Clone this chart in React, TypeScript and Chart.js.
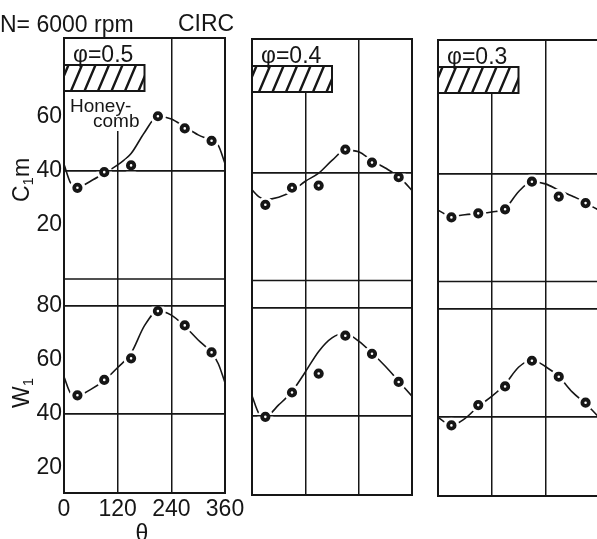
import React, { useEffect, useRef } from 'react';
import { Chart, registerables } from 'chart.js';

Chart.register(...registerables);

// crank angle θ (deg) of the measured points and of the fitted-curve samples
const markerAngles = [30, 90, 150, 210, 270, 330];
const curveAngles = [0, 15, 30, 60, 90, 120, 150, 180, 210, 240, 270, 300, 330, 345, 360];

const phiLabels = ['φ=0.5', 'φ=0.4', 'φ=0.3'];

// C1m, measured points (φ = 0.5, 0.4, 0.3)
const c1mPoints05 = [33.8, 39.6, 42.1, 60.3, 55.8, 51.2];
const c1mPoints04 = [28.0, 34.3, 35.1, 48.4, 43.6, 38.2];
const c1mPoints03 = [23.7, 25.2, 26.7, 36.9, 31.4, 29.0];

// W1, measured points (φ = 0.5, 0.4, 0.3)
const w1Points05 = [46.9, 52.6, 60.6, 78.1, 72.8, 62.8];
const w1Points04 = [39.6, 48.6, 55.6, 69.6, 62.9, 52.5];
const w1Points03 = [36.8, 44.3, 51.2, 60.7, 54.8, 45.2];

// fitted curves, sampled at curveAngles
const c1mCurve05 = [42.5, 35.5, 34.0, 36.3, 39.2, 42.3, 46.5, 54.3, 60.3, 59.3, 56.3, 53.4, 51.2, 49.5, 42.8];
const c1mCurve04 = [33.5, 31.0, 30.0, 30.8, 33.0, 36.7, 39.7, 44.4, 48.2, 47.6, 44.3, 41.6, 38.4, 36.0, 33.3];
const c1mCurve03 = [26.4, 25.0, 24.0, 24.7, 25.1, 25.7, 27.0, 33.2, 36.9, 36.1, 33.8, 31.6, 29.2, 27.7, 26.4];
const w1Curve05 = [53.8, 47.7, 46.9, 49.1, 52.4, 57.2, 62.5, 72.7, 78.2, 76.6, 72.5, 67.4, 62.7, 58.6, 51.6];
const w1Curve04 = [47.4, 41.0, 39.7, 44.0, 49.0, 56.2, 63.8, 68.8, 70.4, 67.6, 63.2, 58.3, 52.8, 50.0, 47.2];
const w1Curve03 = [39.8, 38.0, 36.9, 39.3, 43.8, 47.5, 52.0, 58.3, 61.0, 58.6, 54.9, 49.2, 44.8, 42.4, 39.8];

// axes
const thetaTicks = [0, 120, 240, 360];
const thetaGrid = [120, 240];
const c1mTicks = [20, 40, 60];
const c1mGrid = [40];
const w1Ticks = [20, 40, 60, 80];
const w1Grid = [40, 80];
const c1mRange = [0, 89.3];
const w1Range = [10.7, 90];
const honeycombSpan = [0, 180];

const c1mPoints = [c1mPoints05, c1mPoints04, c1mPoints03];
const w1Points = [w1Points05, w1Points04, w1Points03];
const c1mCurves = [c1mCurve05, c1mCurve04, c1mCurve03];
const w1Curves = [w1Curve05, w1Curve04, w1Curve03];

const INK = '#161616';
const FONT = "'Liberation Sans', Arial, sans-serif";
const H = 539;

// canvas placement of the three columns
const columns = [
  { x: 0, w: 260, padLeft: 0, padRight: 35, axisW: 64, top: 38, bottom: 493 },
  { x: 240, w: 200, padLeft: 12, padRight: 28, axisW: 0, top: 39, bottom: 495 },
  { x: 430, w: 200, padLeft: 8, padRight: 31, axisW: 0, top: 40, bottom: 496 },
];

const pts = (xs: number[], ys: number[]) => xs.map((x, i) => ({ x, y: ys[i] }));

function drawVertical(ctx: CanvasRenderingContext2D, parts: { t: string; size: number; dy: number }[], cx: number, cy: number) {
  ctx.save();
  ctx.translate(cx, cy);
  ctx.rotate(-Math.PI / 2);
  const widths = parts.map((p) => {
    ctx.font = `${p.size}px ${FONT}`;
    return ctx.measureText(p.t).width;
  });
  let x = -widths.reduce((a, b) => a + b, 0) / 2;
  ctx.textBaseline = 'alphabetic';
  ctx.textAlign = 'left';
  parts.forEach((p, i) => {
    ctx.font = `${p.size}px ${FONT}`;
    ctx.fillText(p.t, x, 8 + p.dy);
    x += widths[i];
  });
  ctx.restore();
}

function decorPlugin(col: number) {
  return {
    id: 'panelDecor',
    beforeDatasetsDraw(chart: any) {
      const { ctx, chartArea: a, scales } = chart;
      const x0 = scales.x.getPixelForValue(honeycombSpan[0]);
      const x1 = scales.x.getPixelForValue(honeycombSpan[1]);
      ctx.save();
      // clear band behind the legend block
      ctx.fillStyle = '#fff';
      ctx.fillRect(a.left + 1, a.top + 1, x1 - a.left, (col === 0 ? 92 : 53));
      // hatched honeycomb bar
      const hy0 = a.top + 27;
      const hy1 = a.top + 53;
      ctx.save();
      ctx.beginPath();
      ctx.rect(x0, hy0, x1 - x0, hy1 - hy0);
      ctx.clip();
      ctx.beginPath();
      ctx.strokeStyle = INK;
      ctx.lineWidth = 2.4;
      for (let sx = x0 - 20; sx < x1 + 20; sx += 13.5) {
        ctx.moveTo(sx, hy1);
        ctx.lineTo(sx + 11, hy0);
      }
      ctx.stroke();
      ctx.restore();
      ctx.strokeStyle = INK;
      ctx.lineWidth = 2;
      ctx.strokeRect(x0, hy0, x1 - x0, hy1 - hy0);
      // φ label
      ctx.fillStyle = INK;
      ctx.textBaseline = 'alphabetic';
      ctx.textAlign = 'left';
      ctx.font = `23px ${FONT}`;
      ctx.fillText(phiLabels[col], a.left + 9, a.top + 24);
      if (col === 0) {
        ctx.font = `19px ${FONT}`;
        ctx.fillText('Honey-', a.left + 6, a.top + 74);
        ctx.fillText('comb', a.left + 29, a.top + 89);
      }
      ctx.restore();
    },
    afterDatasetDraw(chart: any, args: any) {
      // horizontal grid lines stay visible through the white rings round the markers
      if (args.index === 2) {
        chart.scales.yC.drawGrid(chart.chartArea);
        chart.scales.yW.drawGrid(chart.chartArea);
      }
    },
    afterDraw(chart: any) {
      const { ctx, chartArea: a, scales } = chart;
      ctx.save();
      ctx.strokeStyle = INK;
      ctx.lineWidth = 2;
      ctx.strokeRect(a.left, a.top, a.right - a.left, a.bottom - a.top);
      ctx.lineWidth = 1.6;
      ctx.beginPath();
      const yd = scales.yW.top;
      ctx.moveTo(a.left, yd);
      ctx.lineTo(a.right, yd);
      ctx.stroke();
      if (col === 0) {
        ctx.fillStyle = INK;
        ctx.textBaseline = 'alphabetic';
        ctx.textAlign = 'left';
        ctx.font = `23px ${FONT}`;
        ctx.fillText('N= 6000 rpm', 0, 32);
        ctx.fillText('CIRC', 178, 31);
        ctx.textAlign = 'center';
        ctx.fillText('θ', 142, 541);
        drawVertical(ctx, [
          { t: 'C', size: 23, dy: 0 },
          { t: '1', size: 15, dy: 4 },
          { t: 'm', size: 23, dy: 0 },
        ], 21, 180);
        drawVertical(ctx, [
          { t: 'W', size: 23, dy: 0 },
          { t: '1', size: 15, dy: 4 },
        ], 21, 393);
      }
      ctx.restore();
    },
  };
}

function buildConfig(col: number): any {
  const c = columns[col];
  const first = col === 0;
  const tickFont = { family: FONT, size: 23 };
  const gridAt = (vals: number[]) => (ctx: any) => (ctx.tick && vals.includes(ctx.tick.value) ? INK : 'rgba(0,0,0,0)');
  const fixTicks = (vals: number[]) => (s: any) => {
    s.ticks = vals.map((v) => ({ value: v }));
  };
  const curve = (data: any, axis: string) => ({
    data,
    yAxisID: axis,
    borderColor: INK,
    borderWidth: 1.6,
    pointRadius: 0,
    cubicInterpolationMode: 'monotone',
    fill: false,
    order: 3,
  });
  const halo = (data: any, axis: string) => ({
    data,
    yAxisID: axis,
    showLine: false,
    pointRadius: 8,
    pointBorderWidth: 0,
    pointBackgroundColor: '#fff',
    pointBorderColor: '#fff',
    order: 2,
  });
  const marker = (data: any, axis: string) => ({
    data,
    yAxisID: axis,
    showLine: false,
    pointRadius: 3.2,
    pointBorderWidth: 3.8,
    pointBackgroundColor: '#fff',
    pointBorderColor: INK,
    order: 1,
  });
  const cCurve = pts(curveAngles, c1mCurves[col]);
  const wCurve = pts(curveAngles, w1Curves[col]);
  const cPts = pts(markerAngles, c1mPoints[col]);
  const wPts = pts(markerAngles, w1Points[col]);
  return {
    type: 'line',
    data: {
      datasets: [
        curve(cCurve, 'yC'),
        curve(wCurve, 'yW'),
        halo(cPts, 'yC'),
        halo(wPts, 'yW'),
        marker(cPts, 'yC'),
        marker(wPts, 'yW'),
      ],
    },
    options: {
      responsive: false,
      animation: false,
      devicePixelRatio: 1,
      events: [],
      layout: { padding: { left: c.padLeft, right: c.padRight, top: c.top, bottom: 0 } },
      plugins: { legend: { display: false }, tooltip: { enabled: false }, title: { display: false } },
      scales: {
        x: {
          type: 'linear',
          position: 'bottom',
          min: 0,
          max: 360,
          afterBuildTicks: fixTicks(thetaTicks),
          afterFit: (s: any) => {
            s.height = H - c.bottom;
            s.paddingLeft = 0;
            s.paddingRight = 0;
          },
          ticks: { display: first, autoSkip: false, maxRotation: 0, padding: 3, color: INK, font: tickFont },
          grid: { color: gridAt(thetaGrid), lineWidth: 1.5, drawTicks: false },
          border: { display: false },
        },
        yC: {
          type: 'linear',
          position: 'left',
          stack: 'col',
          stackWeight: c1mRange[1] - c1mRange[0],
          weight: 1,
          min: c1mRange[0],
          max: c1mRange[1],
          afterBuildTicks: fixTicks(c1mTicks),
          afterFit: (s: any) => {
            s.width = c.axisW;
            s.paddingTop = 0;
            s.paddingBottom = 0;
          },
          ticks: { display: first, padding: 2, color: INK, font: tickFont },
          grid: { color: gridAt(c1mGrid), lineWidth: 1.5, drawTicks: false },
          border: { display: false },
        },
        yW: {
          type: 'linear',
          position: 'left',
          stack: 'col',
          stackWeight: w1Range[1] - w1Range[0],
          weight: 0,
          min: w1Range[0],
          max: w1Range[1],
          afterBuildTicks: fixTicks(w1Ticks),
          afterFit: (s: any) => {
            s.width = c.axisW;
            s.paddingTop = 0;
            s.paddingBottom = 0;
          },
          ticks: { display: first, padding: 2, color: INK, font: tickFont },
          grid: { color: gridAt(w1Grid), lineWidth: 1.5, drawTicks: false },
          border: { display: false },
        },
      },
    },
    plugins: [decorPlugin(col)],
  };
}

function Column({ col }: { col: number }) {
  const ref = useRef<HTMLCanvasElement>(null);
  useEffect(() => {
    if (!ref.current) return;
    const chart = new Chart(ref.current, buildConfig(col));
    return () => chart.destroy();
  }, [col]);
  const c = columns[col];
  return (
    <canvas
      ref={ref}
      width={c.w}
      height={H}
      style={{ position: 'absolute', left: c.x, top: 0, width: c.w, height: H }}
    />
  );
}

export default function App() {
  return (
    <div style={{ position: 'fixed', left: 0, top: 0, width: 597, height: H, overflow: 'hidden', background: '#fff' }}>
      {[0, 1, 2].map((col) => (
        <Column key={col} col={col} />
      ))}
    </div>
  );
}
